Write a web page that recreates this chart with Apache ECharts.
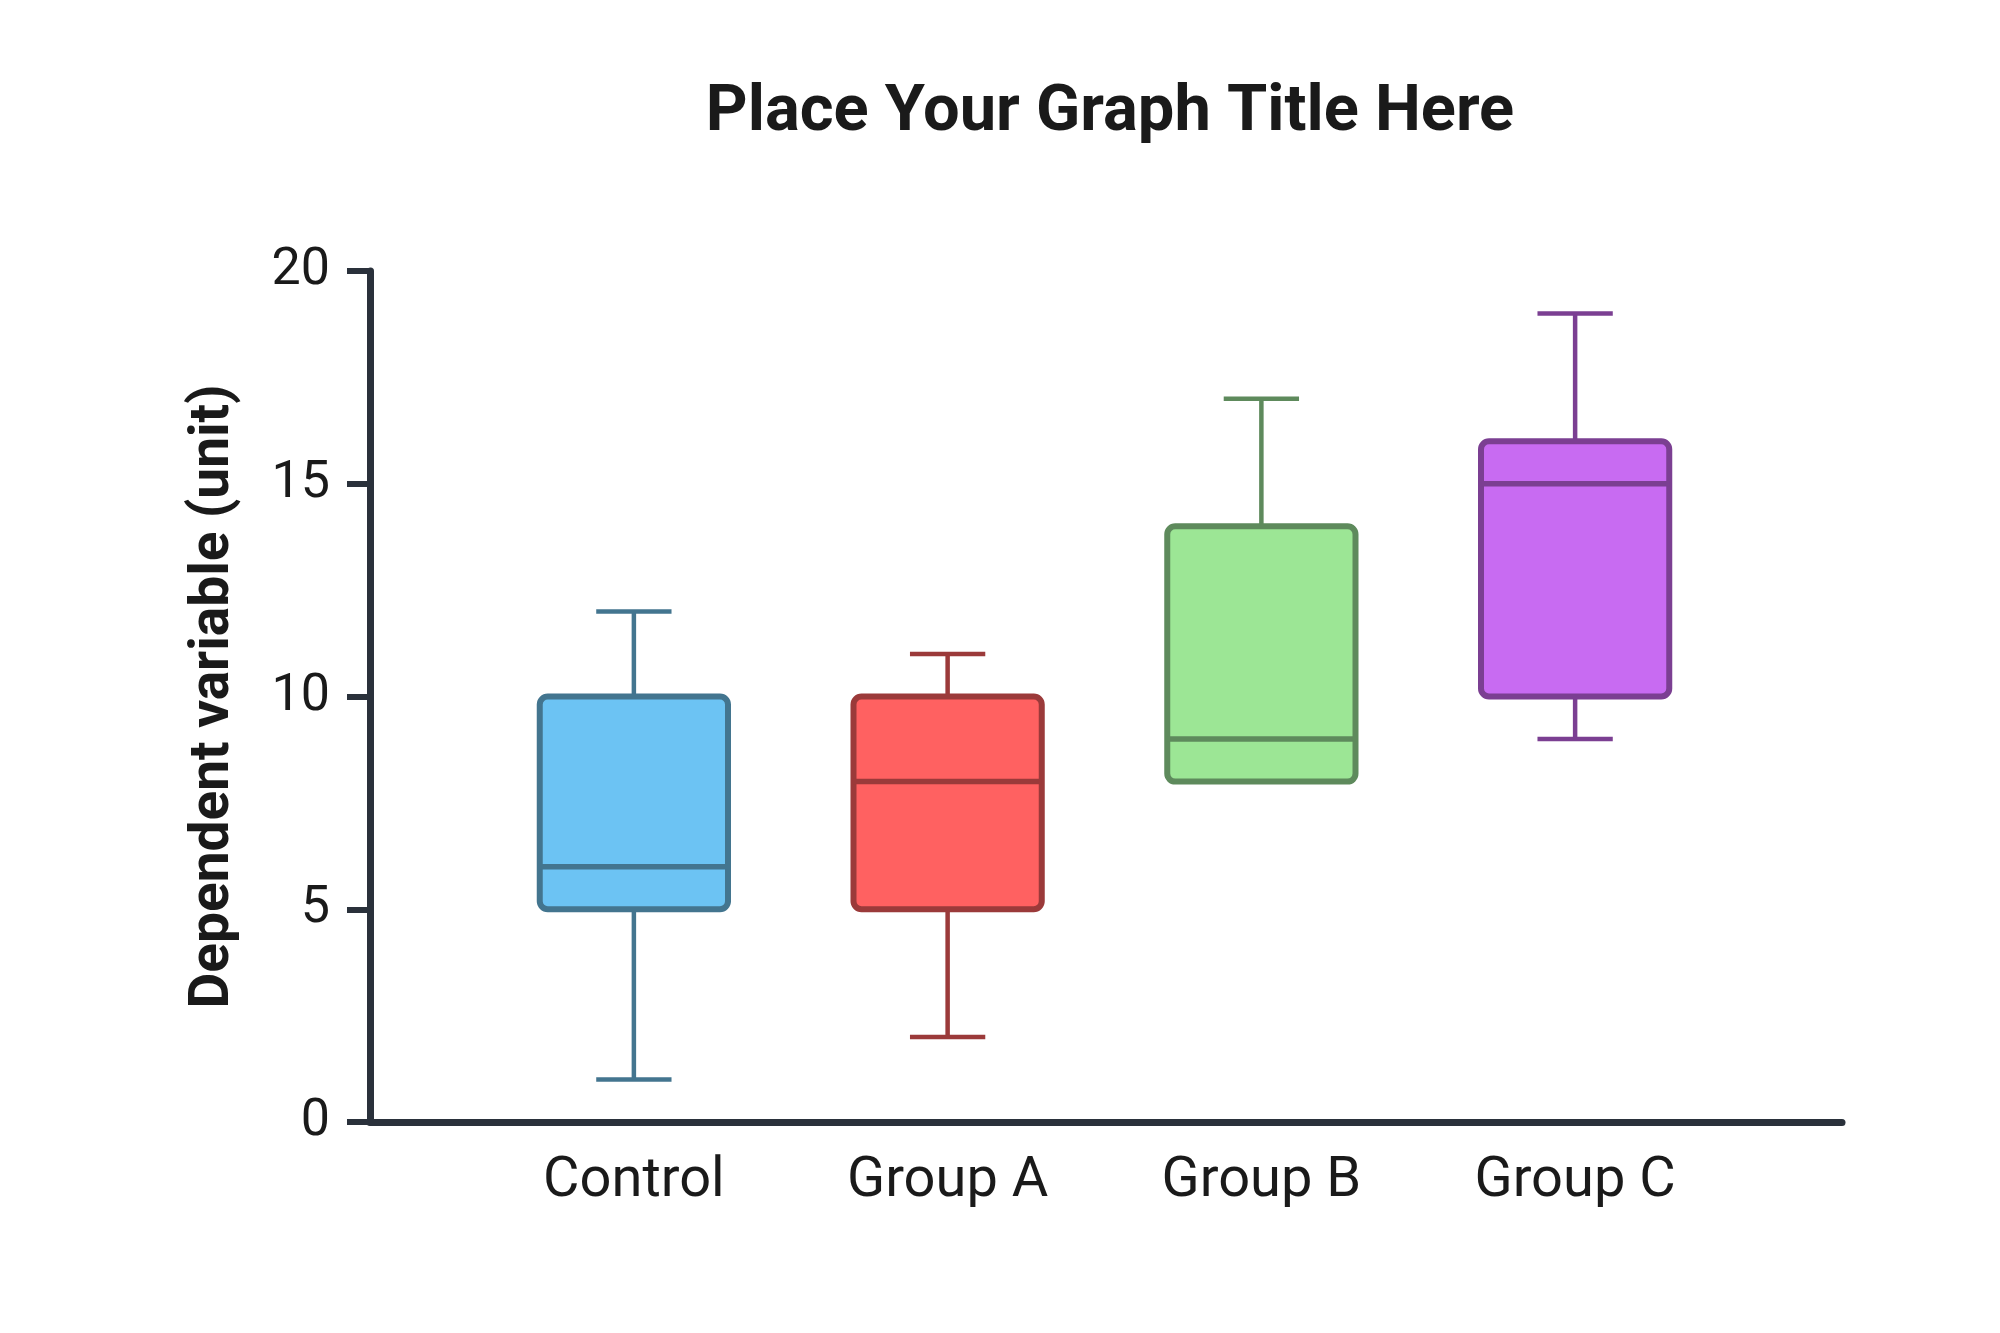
<!DOCTYPE html>
<html>
<head>
<meta charset="UTF-8">
<title>Box plot</title>
<script src="https://cdn.jsdelivr.net/npm/echarts@6/dist/echarts.min.js"></script>
<style>
  html, body { margin: 0; padding: 0; background: #fff; }
</style>
</head>
<body>
	<div id="main" style="width: 2000px; height: 1333px;"></div>

	<script type="text/javascript">
		// data
		var categories = ['Control', 'Group A', 'Group B', 'Group C'];
		var mins    = [1, 2, 8, 9];
		var q1s     = [5, 5, 8, 10];
		var medians = [6, 8, 9, 15];
		var q3s     = [10, 10, 14, 16];
		var maxs    = [12, 11, 17, 19];
		var yTicks  = [0, 5, 10, 15, 20];

		var fills   = ['#6CC3F3', '#FF6161', '#9CE695', '#C86BF2'];
		var strokes = ['#43758F', '#9B3A3A', '#5E8A5C', '#7B3F92'];

		var axisColor = '#2A313B';
		var font = 'Roboto';

		var boxData = categories.map(function (c, i) {
			return [i, mins[i], q1s[i], medians[i], q3s[i], maxs[i]];
		});

		function renderBox(params, api) {
			var i = api.value(0);
			var band = api.size([1, 0])[0];
			var boxW = band * 0.6;
			var capW = band * 0.24;
			var pMin = api.coord([i, api.value(1)]);
			var pQ1 = api.coord([i, api.value(2)]);
			var pMed = api.coord([i, api.value(3)]);
			var pQ3 = api.coord([i, api.value(4)]);
			var pMax = api.coord([i, api.value(5)]);
			var x = pQ1[0];
			var st = strokes[i];
			var lineStyle = { stroke: st, lineWidth: 4.5 };
			return {
				type: 'group',
				children: [
					{ type: 'line', shape: { x1: x, y1: pMin[1], x2: x, y2: pQ1[1] }, style: lineStyle },
					{ type: 'line', shape: { x1: x, y1: pQ3[1], x2: x, y2: pMax[1] }, style: lineStyle },
					{ type: 'line', shape: { x1: x - capW / 2, y1: pMin[1], x2: x + capW / 2, y2: pMin[1] }, style: lineStyle },
					{ type: 'line', shape: { x1: x - capW / 2, y1: pMax[1], x2: x + capW / 2, y2: pMax[1] }, style: lineStyle },
					{
						type: 'rect',
						shape: { x: x - boxW / 2, y: pQ3[1], width: boxW, height: pQ1[1] - pQ3[1], r: 8 },
						style: { fill: fills[i], stroke: st, lineWidth: 6 }
					},
					{ type: 'line', shape: { x1: x - boxW / 2, y1: pMed[1], x2: x + boxW / 2, y2: pMed[1] }, style: { stroke: st, lineWidth: 5.5 } }
				]
			};
		}

		var myChart = echarts.init(document.getElementById('main'));
		myChart.setOption({
			animation: false,
			backgroundColor: '#ffffff',
			title: {
				text: 'Place Your Graph Title Here',
				left: 1105,
				textAlign: 'center',
				top: 76,
				textStyle: { fontFamily: font, fontWeight: 'bold', fontSize: 65, color: '#1A1A1A' }
			},
			grid: [
				{ left: 370, right: 158, top: 271, bottom: 211 },
				{ left: 477, right: 268, top: 271, bottom: 211 }
			],
			xAxis: [
				{
					gridIndex: 0, type: 'value', min: 0, max: 1,
					axisLine: { show: true, lineStyle: { color: axisColor, width: 7 } },
					axisTick: { show: false }, axisLabel: { show: false }, splitLine: { show: false }
				},
				{
					gridIndex: 1, type: 'category', data: categories,
					axisLine: { show: false }, axisTick: { show: false },
					axisLabel: { margin: 32, fontFamily: font, fontSize: 56, color: '#1A1A1A' }
				}
			],
			yAxis: [
				{
					gridIndex: 0, type: 'value', min: yTicks[0], max: yTicks[yTicks.length - 1], interval: 5,
					name: 'Dependent variable (unit)',
					nameLocation: 'middle', nameGap: 128,
					nameTextStyle: { fontFamily: font, fontWeight: 'bold', fontSize: 55, color: '#1A1A1A' },
					axisLine: { show: true, lineStyle: { color: axisColor, width: 7 } },
					axisTick: { show: true, length: 23, lineStyle: { color: axisColor, width: 6 } },
					axisLabel: { margin: 40, fontFamily: font, fontSize: 52, color: '#1A1A1A' },
					splitLine: { show: false }
				},
				{
					gridIndex: 1, type: 'value', min: yTicks[0], max: yTicks[yTicks.length - 1], show: false
				}
			],
			series: [{
				type: 'custom',
				xAxisIndex: 1,
				yAxisIndex: 1,
				renderItem: renderBox,
				encode: { x: 0, y: [1, 2, 3, 4, 5] },
				data: boxData
			}]
		});
	</script>
</body>
</html>
